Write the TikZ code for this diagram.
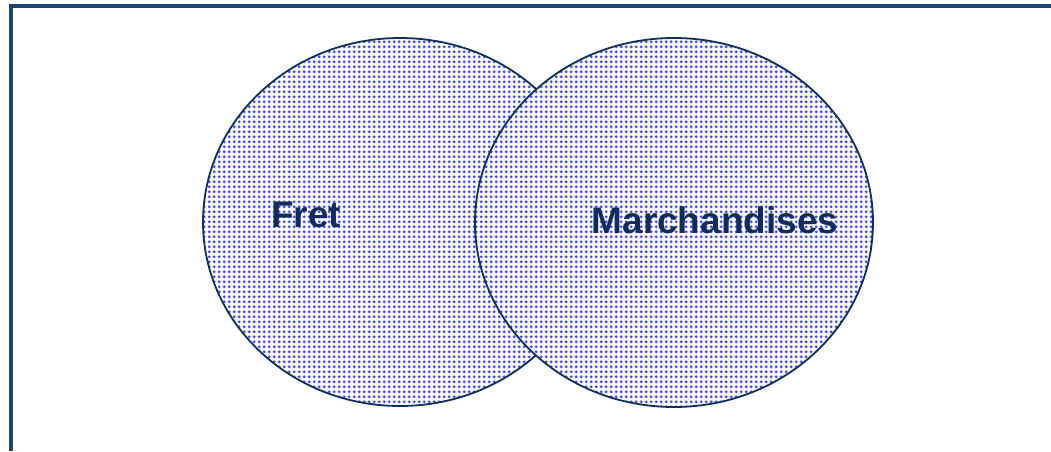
\documentclass[tikz,border=0pt]{standalone}
\usepackage{fontspec}
\setmainfont{Liberation Sans}
\usetikzlibrary{shapes.geometric,patterns.meta}
\definecolor{framenavy}{RGB}{28,68,118}
\definecolor{rimnavy}{RGB}{12,48,92}
\definecolor{textnavy}{RGB}{16,44,92}
\definecolor{dotblue}{RGB}{70,70,255}

\tikzdeclarepattern{
  name=bluedots,
  type=uncolored,
  bounding box={(0pt,0pt) and (4.7pt,4.7pt)},
  tile size={(4.7pt,4.7pt)},
  code={\fill (2.35pt,2.35pt) circle (1.65pt);}
}

\begin{document}
\begin{tikzpicture}[
    x=1pt, y=-1pt,
    venn/.style={ellipse, draw=rimnavy, line width=1.8pt, inner sep=0pt,
                 preaction={fill=white}, pattern=bluedots, pattern color=dotblue},
    setlabel/.style={font=\bfseries\fontsize{37}{40}\selectfont, text=textnavy, inner sep=0pt}
]
\useasboundingbox (0,0) rectangle (1051,451);

% frame
\draw[framenavy, line width=3.2pt] (11,451) -- (11,6) -- (1051,6);

% the two sets
\node[venn, minimum width=394, minimum height=368] (fret) at (400,222) {};
\node[venn, minimum width=398, minimum height=369] (march) at (674,222.5) {};

\node[setlabel] (fretlbl) at (306,215) {Fret};
\node[setlabel] (marchlbl) at (715,220) {Marchandises};

\end{tikzpicture}
\end{document}
